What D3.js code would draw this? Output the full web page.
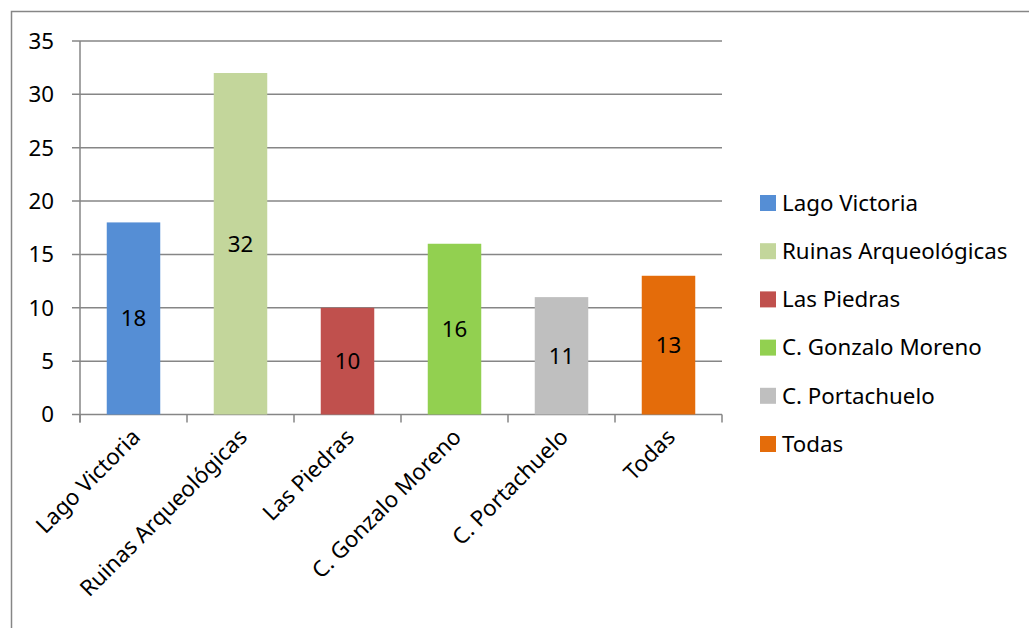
<!DOCTYPE html>
<html>
<head>
<meta charset="utf-8">
<script src="https://cdn.jsdelivr.net/npm/d3@7"></script>
<style>
  body { margin: 0; background: #fff; }
  text { font-family: "Noto Sans", "Open Sans", sans-serif; fill: #000; }
</style>
</head>
<body>
<svg id="chart"></svg>
<script>
var categories = ["Lago Victoria", "Ruinas Arqueológicas", "Las Piedras", "C. Gonzalo Moreno", "C. Portachuelo", "Todas"];
var values = [18, 32, 10, 16, 11, 13];
var barColors = ["#558ED5", "#C3D69B", "#C0504D", "#92D050", "#BFBFBF", "#E46C0A"];
var yTicks = [0, 5, 10, 15, 20, 25, 30, 35];

var w = 1029, h = 628;
var svg = d3.select("#chart").attr("width", w).attr("height", h);

// outer chart border (runs off right / bottom)
svg.append("rect")
    .attr("x", 11.5).attr("y", 11.5)
    .attr("width", 1100).attr("height", 700)
    .attr("fill", "none").attr("stroke", "#868686").attr("stroke-width", 1.5);

var plotLeft = 80, plotRight = 722, plotTop = 41, plotBottom = 414.5;
var fontSize = "22.3px";

var x = d3.scaleBand().domain(categories).range([plotLeft, plotRight]).paddingInner(0.5).paddingOuter(0.25);
var y = d3.scaleLinear().domain([0, 35]).range([plotBottom, plotTop]);

// gridlines
svg.append("g").selectAll("line")
    .data(yTicks)
    .enter().append("line")
    .attr("x1", plotLeft - 8).attr("x2", plotRight)
    .attr("y1", function(d) { return y(d); })
    .attr("y2", function(d) { return y(d); })
    .attr("stroke", "#868686").attr("stroke-width", 1.5);

// y axis line
svg.append("line")
    .attr("x1", plotLeft).attr("x2", plotLeft)
    .attr("y1", plotTop).attr("y2", plotBottom + 8)
    .attr("stroke", "#868686").attr("stroke-width", 1.5);

// x category ticks
var step = (plotRight - plotLeft) / categories.length;
svg.append("g").selectAll("line")
    .data(d3.range(categories.length + 1))
    .enter().append("line")
    .attr("x1", function(i) { return plotLeft + i * step; })
    .attr("x2", function(i) { return plotLeft + i * step; })
    .attr("y1", plotBottom).attr("y2", plotBottom + 8)
    .attr("stroke", "#868686").attr("stroke-width", 1.5);

// y labels
svg.append("g").selectAll("text")
    .data(yTicks)
    .enter().append("text")
    .attr("x", 54)
    .attr("y", function(d) { return y(d); })
    .attr("dy", "0.35em")
    .attr("text-anchor", "end")
    .style("font-size", fontSize)
    .text(function(d) { return d; });

// bars
svg.append("g").selectAll("rect")
    .data(values)
    .enter().append("rect")
    .attr("x", function(d, i) { return x(categories[i]); })
    .attr("width", x.bandwidth())
    .attr("y", function(d) { return y(d); })
    .attr("height", function(d) { return y(0) - y(d); })
    .attr("fill", function(d, i) { return barColors[i]; });

// data labels
svg.append("g").selectAll("text")
    .data(values)
    .enter().append("text")
    .attr("x", function(d, i) { return x(categories[i]) + x.bandwidth() / 2; })
    .attr("y", function(d) { return y(d / 2); })
    .attr("dy", "0.35em")
    .attr("text-anchor", "middle")
    .style("font-size", fontSize)
    .text(function(d) { return d; });

// rotated category labels
svg.append("g").selectAll("text")
    .data(categories)
    .enter().append("text")
    .attr("transform", function(d) {
        return "translate(" + (x(d) + x.bandwidth() / 2 + 8) + "," + (plotBottom + 24) + ") rotate(-45)";
    })
    .attr("text-anchor", "end")
    .style("font-size", fontSize)
    .text(function(d) { return d; });

// legend
var legend = svg.append("g").selectAll("g")
    .data(categories)
    .enter().append("g")
    .attr("transform", function(d, i) { return "translate(760," + (203 + i * 48.2) + ")"; });

legend.append("rect")
    .attr("x", 0).attr("y", -8)
    .attr("width", 16).attr("height", 16)
    .attr("fill", function(d, i) { return barColors[i]; });

legend.append("text")
    .attr("x", 22).attr("y", 0)
    .attr("dy", "0.35em")
    .style("font-size", fontSize)
    .text(function(d) { return d; });
</script>
</body>
</html>
